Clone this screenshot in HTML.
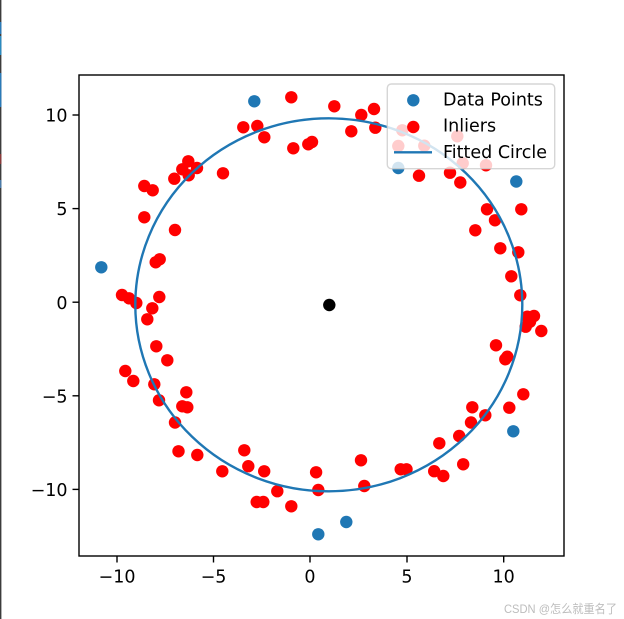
<!DOCTYPE html>
<html><head><meta charset="utf-8"><style>
html,body{margin:0;padding:0;background:#fff;}
svg{display:block;}
text{font-family:"DejaVu Sans","Liberation Sans",sans-serif;}
</style></head><body>
<svg width="624" height="619" viewBox="0 0 624 619" xmlns="http://www.w3.org/2000/svg">
<rect x="0" y="0" width="624" height="619" fill="#fff"/>
<rect x="0" y="0" width="1.4" height="619" fill="#3c3c3c"/>
<rect x="0" y="22" width="1.4" height="12" fill="#2a7ab8"/>
<rect x="0" y="36" width="1.4" height="19" fill="#2a8ac0"/>
<rect x="0" y="73" width="1.4" height="34" fill="#2a7ab8"/>
<rect x="0" y="154" width="1.4" height="10" fill="#8a3a3a"/>
<rect x="0" y="180" width="1.4" height="8" fill="#4a7aa8"/>
<g fill="#1f77b4">
<circle cx="254.3" cy="101.3" r="6.2"/>
<circle cx="101.3" cy="267.3" r="6.2"/>
<circle cx="318.3" cy="534.3" r="6.2"/>
<circle cx="346.3" cy="522" r="6.2"/>
<circle cx="513.3" cy="431.3" r="6.2"/>
<circle cx="516.3" cy="181.5" r="6.2"/>
<circle cx="398.3" cy="168" r="6.2"/>
</g>
<g fill="#ff0000">
<circle cx="291.3" cy="97.3" r="6.2"/>
<circle cx="334.3" cy="106.3" r="6.2"/>
<circle cx="361.3" cy="115" r="6.2"/>
<circle cx="374" cy="109" r="6.2"/>
<circle cx="375.3" cy="127.7" r="6.2"/>
<circle cx="351.3" cy="131.3" r="6.2"/>
<circle cx="243.3" cy="127.3" r="6.2"/>
<circle cx="257.3" cy="126" r="6.2"/>
<circle cx="264.3" cy="137.3" r="6.2"/>
<circle cx="293.3" cy="148.3" r="6.2"/>
<circle cx="308.3" cy="144.3" r="6.2"/>
<circle cx="312" cy="142" r="6.2"/>
<circle cx="223" cy="173.3" r="6.2"/>
<circle cx="188.3" cy="161.3" r="6.2"/>
<circle cx="182.3" cy="169.3" r="6.2"/>
<circle cx="197" cy="168" r="6.2"/>
<circle cx="188.7" cy="175.3" r="6.2"/>
<circle cx="174.3" cy="178.7" r="6.2"/>
<circle cx="144.3" cy="186" r="6.2"/>
<circle cx="152.7" cy="190.3" r="6.2"/>
<circle cx="144.3" cy="217.3" r="6.2"/>
<circle cx="175" cy="230" r="6.2"/>
<circle cx="155.7" cy="262.3" r="6.2"/>
<circle cx="159.7" cy="259.3" r="6.2"/>
<circle cx="122" cy="295" r="6.2"/>
<circle cx="129" cy="298.3" r="6.2"/>
<circle cx="136.3" cy="303" r="6.2"/>
<circle cx="159.3" cy="297" r="6.2"/>
<circle cx="152.3" cy="308.3" r="6.2"/>
<circle cx="147.3" cy="319.3" r="6.2"/>
<circle cx="156.3" cy="346.3" r="6.2"/>
<circle cx="167.3" cy="360.3" r="6.2"/>
<circle cx="125.3" cy="371" r="6.2"/>
<circle cx="133.3" cy="381" r="6.2"/>
<circle cx="154.3" cy="384.3" r="6.2"/>
<circle cx="159" cy="400.3" r="6.2"/>
<circle cx="186.3" cy="392.3" r="6.2"/>
<circle cx="182.3" cy="406.3" r="6.2"/>
<circle cx="187.3" cy="407.3" r="6.2"/>
<circle cx="175" cy="422.5" r="6.2"/>
<circle cx="178.5" cy="451.3" r="6.2"/>
<circle cx="197.3" cy="455" r="6.2"/>
<circle cx="222.3" cy="471.3" r="6.2"/>
<circle cx="244.3" cy="450.3" r="6.2"/>
<circle cx="248.3" cy="466.2" r="6.2"/>
<circle cx="264.2" cy="471.3" r="6.2"/>
<circle cx="277.3" cy="491.2" r="6.2"/>
<circle cx="256.7" cy="502" r="6.2"/>
<circle cx="263.3" cy="502" r="6.2"/>
<circle cx="291.3" cy="506.3" r="6.2"/>
<circle cx="316.1" cy="472.3" r="6.2"/>
<circle cx="318.3" cy="490" r="6.2"/>
<circle cx="361" cy="460.3" r="6.2"/>
<circle cx="364.3" cy="486" r="6.2"/>
<circle cx="400.7" cy="469.3" r="6.2"/>
<circle cx="406.5" cy="469.3" r="6.2"/>
<circle cx="434.2" cy="471.2" r="6.2"/>
<circle cx="443.3" cy="476" r="6.2"/>
<circle cx="439.3" cy="443.3" r="6.2"/>
<circle cx="459.2" cy="436" r="6.2"/>
<circle cx="463.2" cy="464.3" r="6.2"/>
<circle cx="471" cy="422.5" r="6.2"/>
<circle cx="485.3" cy="415.3" r="6.2"/>
<circle cx="472.3" cy="407.3" r="6.2"/>
<circle cx="509.3" cy="407.7" r="6.2"/>
<circle cx="523.3" cy="394.3" r="6.2"/>
<circle cx="496" cy="345.3" r="6.2"/>
<circle cx="505.3" cy="359.3" r="6.2"/>
<circle cx="507.3" cy="356.7" r="6.2"/>
<circle cx="527.3" cy="316.7" r="6.2"/>
<circle cx="534" cy="316" r="6.2"/>
<circle cx="525.7" cy="326.7" r="6.2"/>
<circle cx="530" cy="321.7" r="6.2"/>
<circle cx="541.3" cy="331" r="6.2"/>
<circle cx="520.3" cy="295.3" r="6.2"/>
<circle cx="511.3" cy="276.3" r="6.2"/>
<circle cx="500.3" cy="248.3" r="6.2"/>
<circle cx="518.3" cy="252.3" r="6.2"/>
<circle cx="475.3" cy="230.3" r="6.2"/>
<circle cx="495" cy="220.3" r="6.2"/>
<circle cx="487" cy="209.3" r="6.2"/>
<circle cx="521.3" cy="209.3" r="6.2"/>
<circle cx="460.3" cy="182.5" r="6.2"/>
<circle cx="419" cy="175.7" r="6.2"/>
<circle cx="450" cy="172.7" r="6.2"/>
<circle cx="402.3" cy="130.3" r="6.2"/>
<circle cx="398.3" cy="146" r="6.2"/>
<circle cx="424.3" cy="145.7" r="6.2"/>
<circle cx="457.3" cy="136.3" r="6.2"/>
<circle cx="462.7" cy="163.3" r="6.2"/>
<circle cx="486" cy="165.3" r="6.2"/>
</g>
<circle cx="329.3" cy="305" r="6.2" fill="#000"/>
<ellipse cx="328.8" cy="304.8" rx="193.5" ry="186.5" fill="none" stroke="#1f77b4" stroke-width="2.4"/>
<rect x="79" y="75" width="485" height="481" fill="none" stroke="#000" stroke-width="1.4"/>
<g stroke="#000" stroke-width="1.4">
<line x1="117" y1="556" x2="117" y2="562.5"/>
<line x1="213.5" y1="556" x2="213.5" y2="562.5"/>
<line x1="310" y1="556" x2="310" y2="562.5"/>
<line x1="407" y1="556" x2="407" y2="562.5"/>
<line x1="503.7" y1="556" x2="503.7" y2="562.5"/>
<line x1="72.5" y1="115" x2="79" y2="115"/>
<line x1="72.5" y1="208.6" x2="79" y2="208.6"/>
<line x1="72.5" y1="302.2" x2="79" y2="302.2"/>
<line x1="72.5" y1="395.8" x2="79" y2="395.8"/>
<line x1="72.5" y1="489.4" x2="79" y2="489.4"/>
</g>
<g font-size="17.5" fill="#000" text-anchor="middle">
<text x="117" y="582.3">−10</text>
<text x="213.5" y="582.3">−5</text>
<text x="310" y="582.3">0</text>
<text x="407" y="582.3">5</text>
<text x="503.7" y="582.3">10</text>
</g>
<g font-size="17.5" fill="#000" text-anchor="end">
<text x="67.5" y="121.7">10</text>
<text x="67.5" y="215.2">5</text>
<text x="67.5" y="308.8">0</text>
<text x="67.5" y="402.4">−5</text>
<text x="67.5" y="496">−10</text>
</g>
<rect x="387.3" y="84" width="167.4" height="84.7" rx="4" ry="4" fill="#fff" fill-opacity="0.8" stroke="#cccccc" stroke-opacity="0.8" stroke-width="1.4"/>
<circle cx="413.3" cy="100.3" r="6.2" fill="#1f77b4"/>
<circle cx="413.3" cy="127" r="6.2" fill="#ff0000"/>
<line x1="394" y1="152.3" x2="432" y2="152.3" stroke="#1f77b4" stroke-width="2.4"/>
<g font-size="17.5" fill="#000">
<text x="443" y="105.6">Data Points</text>
<text x="443" y="131.3">Inliers</text>
<text x="443" y="157.8">Fitted Circle</text>
</g>
<text x="504" y="613" font-size="12" fill="#bdbdbd" textLength="113" lengthAdjust="spacingAndGlyphs" style="font-family:'Liberation Sans','Noto Sans CJK SC',sans-serif">CSDN @怎么就重名了</text>
</svg>
</body></html>
